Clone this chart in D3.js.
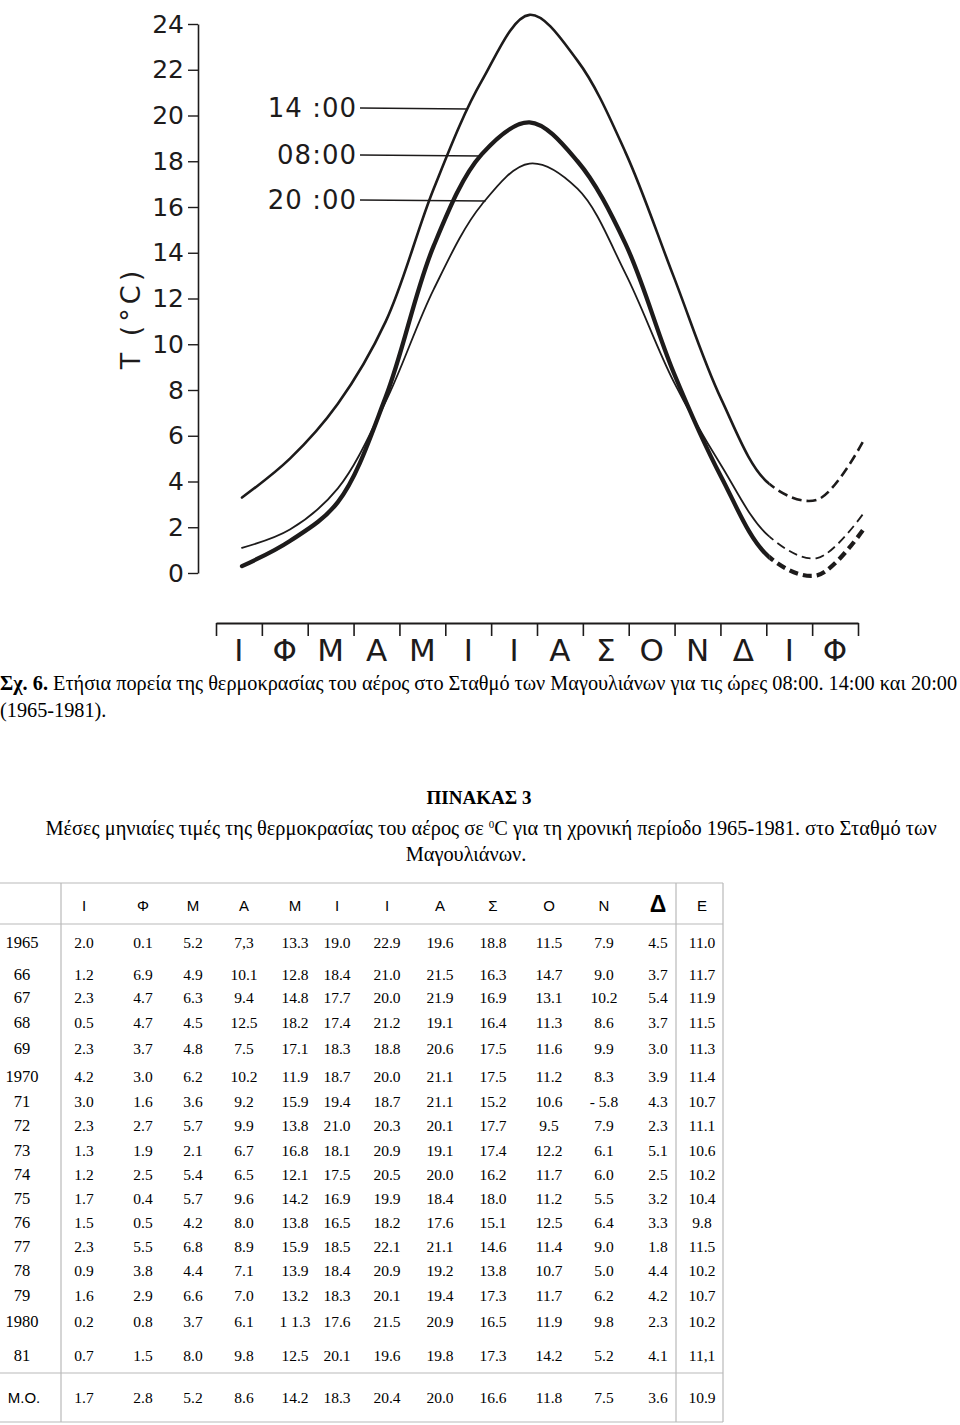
<!DOCTYPE html>
<html><head><meta charset="utf-8">
<script src="https://cdn.jsdelivr.net/npm/d3@7"></script>
<style>body{margin:0;background:#fff}svg{display:block}</style>
</head><body><svg id="c" width="960" height="1425"></svg>
<script>
// ---------- DATA ----------
const axisMonths = ["Ι","Φ","Μ","Α","Μ","Ι","Ι","Α","Σ","Ο","Ν","Δ","Ι","Φ"];
const yTickValues = [0,2,4,6,8,10,12,14,16,18,20,22,24];
const curveMonthsIdx = [0,1,2,3,4,5,6,7,8,9,10,11,12,13];
const t1400 = [3.3, 5.0, 7.4, 11.0, 16.8, 21.5, 24.4, 22.4, 18.4, 13.0, 7.6, 3.9, 3.2, 5.9];
const t0800 = [0.3, 1.4, 3.1, 7.7, 14.3, 18.3, 19.7, 18.0, 14.4, 8.8, 4.2, 0.7, -0.1, 2.0];
const t2000 = [1.1, 1.9, 3.7, 7.5, 12.4, 16.1, 17.9, 16.8, 13.1, 8.4, 4.7, 1.6, 0.65, 2.7];
const seriesLabels = ["14 :00", "08:00", "20 :00"];
const yAxisTitle = "T (°C)";

const tableMonths = ["Ι","Φ","Μ","Α","Μ","Ι","Ι","Α","Σ","Ο","Ν","Δ","Ε"];
const tableYears = ["1965","66","67","68","69","1970","71","72","73","74","75","76","77","78","79","1980","81"];
const tableValues = [
 ["2.0","0.1","5.2","7,3","13.3","19.0","22.9","19.6","18.8","11.5","7.9","4.5","11.0"],
 ["1.2","6.9","4.9","10.1","12.8","18.4","21.0","21.5","16.3","14.7","9.0","3.7","11.7"],
 ["2.3","4.7","6.3","9.4","14.8","17.7","20.0","21.9","16.9","13.1","10.2","5.4","11.9"],
 ["0.5","4.7","4.5","12.5","18.2","17.4","21.2","19.1","16.4","11.3","8.6","3.7","11.5"],
 ["2.3","3.7","4.8","7.5","17.1","18.3","18.8","20.6","17.5","11.6","9.9","3.0","11.3"],
 ["4.2","3.0","6.2","10.2","11.9","18.7","20.0","21.1","17.5","11.2","8.3","3.9","11.4"],
 ["3.0","1.6","3.6","9.2","15.9","19.4","18.7","21.1","15.2","10.6","- 5.8","4.3","10.7"],
 ["2.3","2.7","5.7","9.9","13.8","21.0","20.3","20.1","17.7","9.5","7.9","2.3","11.1"],
 ["1.3","1.9","2.1","6.7","16.8","18.1","20.9","19.1","17.4","12.2","6.1","5.1","10.6"],
 ["1.2","2.5","5.4","6.5","12.1","17.5","20.5","20.0","16.2","11.7","6.0","2.5","10.2"],
 ["1.7","0.4","5.7","9.6","14.2","16.9","19.9","18.4","18.0","11.2","5.5","3.2","10.4"],
 ["1.5","0.5","4.2","8.0","13.8","16.5","18.2","17.6","15.1","12.5","6.4","3.3","9.8"],
 ["2.3","5.5","6.8","8.9","15.9","18.5","22.1","21.1","14.6","11.4","9.0","1.8","11.5"],
 ["0.9","3.8","4.4","7.1","13.9","18.4","20.9","19.2","13.8","10.7","5.0","4.4","10.2"],
 ["1.6","2.9","6.6","7.0","13.2","18.3","20.1","19.4","17.3","11.7","6.2","4.2","10.7"],
 ["0.2","0.8","3.7","6.1","1 1.3","17.6","21.5","20.9","16.5","11.9","9.8","2.3","10.2"],
 ["0.7","1.5","8.0","9.8","12.5","20.1","19.6","19.8","17.3","14.2","5.2","4.1","11,1"]
];
const meanLabel = "M.O.";
const meanValues = ["1.7","2.8","5.2","8.6","14.2","18.3","20.4","20.0","16.6","11.8","7.5","3.6","10.9"];

const captionBold = "Σχ. 6.";
const captionRest = " Ετήσια πορεία της θερμοκρασίας του αέρος στο Σταθμό των Μαγουλιάνων για τις ώρες 08:00. 14:00 και 20:00";
const captionLine2 = "(1965-1981).";
const tableTitle = "ΠΙΝΑΚΑΣ 3";

// ---------- DRAW ----------
const svg = d3.select("#c");
const ink = "#1d1b1b";
const axisFont = "'DejaVu Sans', sans-serif";
const serif = "'Liberation Serif', 'Times New Roman', serif";

const y = d3.scaleLinear().domain([0, 24]).range([573, 24]);
const xc = d3.scaleLinear().domain([0, 13]).range([242, 865]);
const xa = d3.scaleLinear().domain([0, 14]).range([216, 858]);
const dashStartIdx = 11;

const defs = svg.append("defs");
defs.append("clipPath").attr("id", "clipSolid").append("rect")
  .attr("x", 0).attr("y", 0).attr("width", xc(dashStartIdx)).attr("height", 700);
defs.append("clipPath").attr("id", "clipDash").append("rect")
  .attr("x", xc(dashStartIdx)).attr("y", 0).attr("width", 300).attr("height", 700);

// y axis
const gy = svg.append("g").attr("transform", "translate(198,0)")
  .call(d3.axisLeft(y).tickValues(yTickValues).tickSize(10).tickSizeOuter(0).tickPadding(4));
gy.select(".domain").attr("stroke", ink).attr("stroke-width", 1.6);
gy.selectAll(".tick line").attr("stroke", ink).attr("stroke-width", 1.4);
gy.selectAll(".tick text").attr("fill", ink).style("font-family", axisFont).style("font-size", "25px");

svg.append("text").attr("transform", "translate(140,318) rotate(-90)")
  .attr("text-anchor", "middle").style("font-family", axisFont).style("font-size", "27px")
  .style("letter-spacing", "4px").attr("fill", ink).text(yAxisTitle);

// x axis
const gx = svg.append("g").attr("transform", "translate(0,623)")
  .call(d3.axisBottom(xa).tickValues(d3.range(15)).tickSize(13).tickSizeOuter(0).tickFormat(""));
gx.select(".domain").attr("stroke", ink).attr("stroke-width", 1.8);
gx.selectAll(".tick line").attr("stroke", ink).attr("stroke-width", 1.6);
svg.append("g").selectAll("text").data(axisMonths).join("text")
  .attr("x", (d, i) => xa(i + 0.5)).attr("y", 661)
  .attr("text-anchor", "middle").style("font-family", axisFont).style("font-size", "31px")
  .attr("fill", ink).text(d => d);

// curves
const series = [
  {name: seriesLabels[0], vals: t1400, w: 2.6, dash: [10, 5], ly: 108},
  {name: seriesLabels[1], vals: t0800, w: 4.3, dash: [9, 5], ly: 155},
  {name: seriesLabels[2], vals: t2000, w: 1.8, dash: [9, 5], ly: 200}
];
const line = d3.line().x(d => xc(d.i)).y(d => y(d.v)).curve(d3.curveCatmullRom.alpha(0.5));
series.forEach(s => {
  const pts = curveMonthsIdx.map(i => ({i, v: s.vals[i]}));
  const solid = svg.append("path").datum(pts).attr("d", line).attr("clip-path", "url(#clipSolid)")
    .attr("fill", "none").attr("stroke", ink).attr("stroke-width", s.w).attr("stroke-linecap", "round");
  const node = solid.node(), L = node.getTotalLength();
  let Ldec = 0;
  for (let l = 0; l <= L; l += 0.5) { if (node.getPointAtLength(l).x >= xc(dashStartIdx)) { Ldec = l; break; } }
  svg.append("path").datum(pts).attr("d", line).attr("clip-path", "url(#clipDash)")
    .attr("fill", "none").attr("stroke", ink).attr("stroke-width", s.w)
    .attr("stroke-dasharray", s.dash.join(",")).attr("stroke-dashoffset", -Ldec + 4);
  let hit = null;
  for (let l = 0; l <= L; l += 0.5) { const p = node.getPointAtLength(l); if (p.y <= s.ly) { hit = p; break; } }
  const x0 = 360;
  svg.append("line").attr("x1", x0).attr("y1", s.ly).attr("x2", hit ? hit.x : 470).attr("y2", s.ly + 1)
    .attr("stroke", ink).attr("stroke-width", 1.4);
  svg.append("text").attr("x", x0 - 3).attr("y", s.ly + 9).attr("text-anchor", "end")
    .style("font-family", axisFont).style("font-size", "26px").style("letter-spacing", "1px")
    .attr("fill", ink).text(s.name);
});

// caption
function fitText(sel, width) {
  const len = sel.node().getComputedTextLength();
  const fs = parseFloat(sel.style("font-size"));
  sel.style("font-size", (fs * width / len) + "px");
}
const cap = svg.append("text").attr("x", 0).attr("y", 690).style("font-family", serif).style("font-size", "18px").attr("fill", "#000");
cap.append("tspan").style("font-weight", "bold").text(captionBold);
cap.append("tspan").text(captionRest);
fitText(cap, 958);
svg.append("text").attr("x", 0).attr("y", 717).style("font-family", serif).style("font-size", cap.style("font-size")).text(captionLine2);

svg.append("text").attr("x", 479).attr("y", 804).attr("text-anchor", "middle").style("font-family", serif)
  .style("font-weight", "bold").style("font-size", "19px").text(tableTitle);
const sub = svg.append("text").attr("x", 491).attr("y", 835).attr("text-anchor", "middle").style("font-family", serif).style("font-size", "18px");
sub.append("tspan").text("Μέσες μηνιαίες τιμές της θερμοκρασίας του αέρος σε ");
sub.append("tspan").attr("dy", -7).style("font-size", "11px").text("0");
sub.append("tspan").attr("dy", 7).text("C για τη χρονική περίοδο 1965-1981. στο Σταθμό των");
fitText(sub, 892);
svg.append("text").attr("x", 466).attr("y", 861).attr("text-anchor", "middle").style("font-family", serif)
  .style("font-size", sub.style("font-size")).text("Μαγουλιάνων.");

// table
const colX = [84,143,193,244,295,337,387,440,493,549,604,658,702];
const rowY = [943,975,998,1023,1049,1077,1102,1126,1151,1175,1199,1223,1247,1271,1296,1322,1356];
const grid = "#b9b9b9";
const tg = svg.append("g");
[[0,883,723,883],[0,924,723,924],[0,1373,723,1373],[0,1422,723,1422],
 [61,883,61,1422],[676,883,676,1422],[723,883,723,1422]].forEach(l =>
  tg.append("line").attr("x1", l[0]).attr("y1", l[1]).attr("x2", l[2]).attr("y2", l[3]).attr("stroke", grid).attr("stroke-width", 1.2));
tg.selectAll("text.hd").data(tableMonths).join("text").attr("class", "hd")
  .attr("x", (d, i) => colX[i]).attr("y", (d, i) => d === "Δ" ? 912 : 911).attr("text-anchor", "middle")
  .style("font-family", "'Liberation Sans', Arial, sans-serif")
  .style("font-size", d => d === "Δ" ? "23px" : "15px").style("font-weight", d => d === "Δ" ? "bold" : "normal")
  .text(d => d);
tableYears.forEach((yr, r) => {
  tg.append("text").attr("x", 22).attr("y", rowY[r] + 5).attr("text-anchor", "middle")
    .style("font-family", serif).style("font-size", "16.5px").text(yr);
  tg.selectAll(null).data(tableValues[r]).join("text")
    .attr("x", (d, i) => colX[i]).attr("y", rowY[r] + 5).attr("text-anchor", "middle")
    .style("font-family", serif).style("font-size", "15.5px").text(d => d);
});
tg.append("text").attr("x", 24).attr("y", 1403).attr("text-anchor", "middle")
  .style("font-family", "'Liberation Sans', Arial, sans-serif").style("font-size", "15px").text(meanLabel);
tg.selectAll(null).data(meanValues).join("text")
  .attr("x", (d, i) => colX[i]).attr("y", 1403).attr("text-anchor", "middle")
  .style("font-family", serif).style("font-size", "15.5px").text(d => d);
</script></body></html>
